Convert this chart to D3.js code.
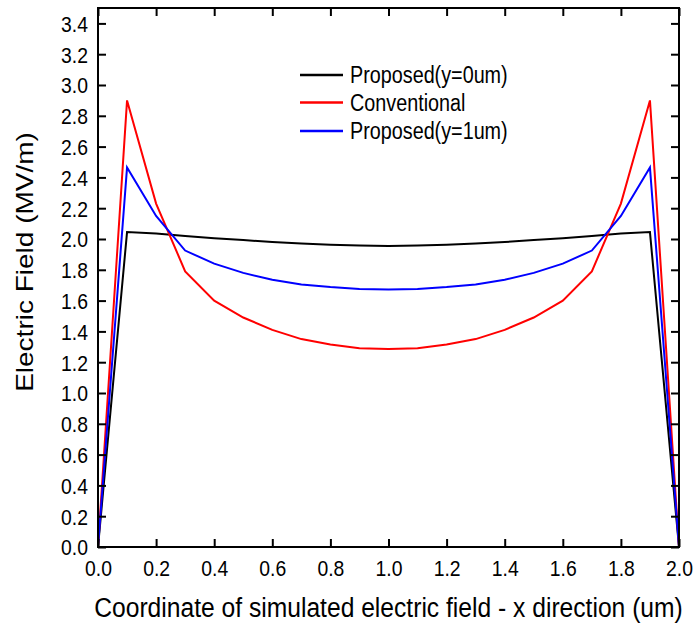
<!DOCTYPE html>
<html>
<head>
<meta charset="utf-8">
<script src="https://cdn.jsdelivr.net/npm/d3@7"></script>
<style>
  html, body { margin: 0; padding: 0; background: #fff; }
  svg { display: block; font-family: Arial, "Liberation Sans", sans-serif; }
</style>
</head>
<body>
<svg id="chart" width="694" height="630"></svg>
<script>
// Position along the device (um)
const xPos = [0.0, 0.1, 0.2, 0.3, 0.4, 0.5, 0.6, 0.7, 0.8, 0.9, 1.0,
              1.1, 1.2, 1.3, 1.4, 1.5, 1.6, 1.7, 1.8, 1.9, 2.0];

// Electric field (MV/m) for each structure
const proposedY0 = [0.0, 2.045, 2.035, 2.02, 2.005, 1.993, 1.98, 1.97, 1.962, 1.957, 1.955,
                    1.957, 1.962, 1.97, 1.98, 1.993, 2.005, 2.02, 2.035, 2.045, 0.0];
const conventional = [0.0, 2.90, 2.23, 1.79, 1.60, 1.49, 1.41, 1.35, 1.315, 1.29, 1.285,
                      1.29, 1.315, 1.35, 1.41, 1.49, 1.60, 1.79, 2.23, 2.90, 0.0];
const proposedY1 = [0.0, 2.465, 2.15, 1.925, 1.84, 1.78, 1.735, 1.705, 1.688, 1.676, 1.672,
                    1.676, 1.688, 1.705, 1.735, 1.78, 1.84, 1.925, 2.15, 2.465, 0.0];

const seriesNames = ["Proposed(y=0um)", "Conventional", "Proposed(y=1um)"];
const seriesColors = ["#000000", "#ff0000", "#0000ff"];
const seriesData = [proposedY0, conventional, proposedY1];

const xTicks = [0.0, 0.2, 0.4, 0.6, 0.8, 1.0, 1.2, 1.4, 1.6, 1.8, 2.0];
const yTicks = [0.0, 0.2, 0.4, 0.6, 0.8, 1.0, 1.2, 1.4, 1.6, 1.8, 2.0, 2.2, 2.4,
                2.6, 2.8, 3.0, 3.2, 3.4];

const xTitle = "Coordinate of simulated electric field - x direction (um)";
const yTitle = "Electric Field (MV/m)";

const svg = d3.select("#chart");
const plotLeft = 98, plotRight = 679, plotTop = 8, plotBottom = 547;

const x = d3.scaleLinear().domain([0, 2]).range([plotLeft, plotRight]);
const y = d3.scaleLinear().domain([0, 3.5]).range([plotBottom, plotTop]);

const tickLen = 8;
const fmt = d3.format(".1f");
const squeeze = 0.88;      // horizontally condensed lettering
const tickFont = 22;

// Series lines
const line = d3.line().x((d, i) => x(xPos[i])).y(d => y(d));
const plot = svg.append("g");
seriesData.forEach((vals, k) => {
  plot.append("path")
    .datum(vals)
    .attr("d", line)
    .attr("fill", "none")
    .attr("stroke", seriesColors[k])
    .attr("stroke-width", 2)
    .attr("stroke-linejoin", "miter");
});

// Axes with inward ticks on all four sides
const axisStyle = g => {
  g.select(".domain").remove();
  g.selectAll(".tick line").attr("stroke", "#000").attr("stroke-width", 2);
};
const labelStyle = g => g.selectAll("text")
  .attr("font-size", tickFont).attr("fill", "#000")
  .attr("font-family", "Arial, 'Liberation Sans', sans-serif")
  .attr("transform", `scale(${squeeze},1)`);

svg.append("g")
  .attr("transform", `translate(0,${plotBottom})`)
  .call(d3.axisBottom(x).tickValues(xTicks).tickFormat(fmt).tickSizeInner(-tickLen).tickSizeOuter(0))
  .call(axisStyle)
  .call(labelStyle)
  .call(g => g.selectAll("text").attr("y", 29).attr("dy", 0));

svg.append("g")
  .attr("transform", `translate(0,${plotTop})`)
  .call(d3.axisTop(x).tickValues(xTicks).tickFormat("").tickSizeInner(-tickLen).tickSizeOuter(0))
  .call(axisStyle);

svg.append("g")
  .attr("transform", `translate(${plotLeft},0)`)
  .call(d3.axisLeft(y).tickValues(yTicks).tickFormat(fmt).tickSizeInner(-tickLen).tickSizeOuter(0))
  .call(axisStyle)
  .call(labelStyle)
  .call(g => g.selectAll("text").attr("x", -10 / squeeze).attr("dy", "0.36em"));

svg.append("g")
  .attr("transform", `translate(${plotRight},0)`)
  .call(d3.axisRight(y).tickValues(yTicks).tickFormat("").tickSizeInner(-tickLen).tickSizeOuter(0))
  .call(axisStyle);

// Frame
svg.append("rect")
  .attr("x", plotLeft).attr("y", plotTop)
  .attr("width", plotRight - plotLeft).attr("height", plotBottom - plotTop)
  .attr("fill", "none").attr("stroke", "#000").attr("stroke-width", 2);

// Axis titles
svg.append("g")
  .attr("transform", `translate(${(plotLeft + plotRight) / 2},617) scale(${squeeze},1)`)
  .append("text")
  .attr("text-anchor", "middle")
  .attr("font-size", 28)
  .text(xTitle);

svg.append("g")
  .attr("transform", `translate(33,262) scale(${squeeze},1) rotate(-90)`)
  .append("text")
  .attr("text-anchor", "middle")
  .attr("font-size", 28)
  .text(yTitle);

// Legend
const legFont = 23;
const legSqueeze = 0.86;
const legend = svg.append("g");
const legY = [75, 102.5, 131];
seriesNames.forEach((name, k) => {
  legend.append("line")
    .attr("x1", 300).attr("x2", 343)
    .attr("y1", legY[k]).attr("y2", legY[k])
    .attr("stroke", seriesColors[k]).attr("stroke-width", 2.5);
  legend.append("g")
    .attr("transform", `translate(350,${legY[k] + 0.358 * legFont}) scale(${legSqueeze},1)`)
    .append("text")
    .attr("font-size", legFont)
    .text(name);
});
</script>
</body>
</html>
